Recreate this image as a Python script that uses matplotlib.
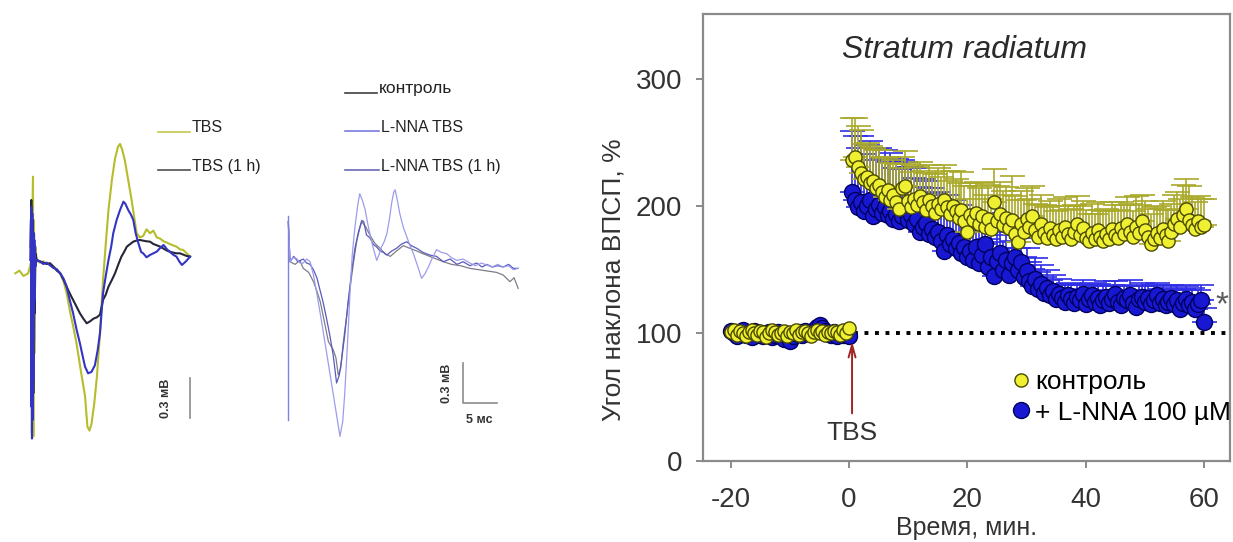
import numpy as np
import matplotlib
matplotlib.use("Agg")
import matplotlib.pyplot as plt
from matplotlib.lines import Line2D

plt.rcParams['font.family'] = ['Liberation Sans', 'DejaVu Sans']
plt.rcParams['axes.unicode_minus'] = False

# ---------------- DATA: right panel (fEPSP slope, %) ----------------
t_base = np.arange(-20, 0.01, 0.5)          # baseline, min
t_post = np.arange(0.5, 60.01, 0.5)         # after TBS, min

ctrl_base = [101, 103, 99, 102, 100, 98, 101, 103, 100, 99, 102, 101, 97, 100, 103, 101,
             99, 100, 102, 98, 101, 100, 103, 99, 101, 102, 100, 98, 101, 103, 100, 102,
             99, 101, 100, 102, 101, 99, 103, 100, 104]
lnna_base = [102, 100, 98, 101, 103, 99, 100, 97, 102, 101, 99, 98, 100, 101, 97, 99,
             101, 98, 96, 99, 94, 98, 100, 101, 99, 102, 100, 101, 103, 105, 107, 104,
             102, 100, 99, 101, 98, 100, 99, 101, 98]

ctrl_post = [236, 239, 231, 226, 221, 223, 218, 220, 214, 217, 211, 207, 213, 205, 209, 203,
             198, 214, 216, 204, 199, 206, 201, 208, 203, 197, 205, 200, 195, 202, 198, 205,
             199, 194, 200, 196, 191, 197, 188, 180, 193, 189, 195, 186, 192, 184, 190, 182,
             203, 188, 194, 185, 191, 183, 189, 178, 172, 186, 180, 190, 184, 192, 181, 176,
             186, 179, 175, 183, 177, 174, 181, 176, 184, 178, 174, 180, 186, 177, 183, 175,
             173, 179, 174, 181, 176, 173, 178, 174, 182, 177, 175, 183, 178, 186, 180, 176,
             184, 179, 188, 181, 176, 170, 174, 179, 175, 182, 177, 173, 180, 186, 190, 184,
             193, 198, 189, 185, 182, 188, 184, 185]
ctrl_err = [33, 30, 32, 34, 28, 27, 29, 26, 30, 27, 28, 31, 26, 29, 27, 30, 32, 25, 27, 29,
            28, 26, 30, 27, 25, 29, 27, 26, 30, 28, 25, 27, 29, 26, 28, 25, 27, 30, 28, 26,
            25, 27, 24, 28, 26, 25, 27, 24, 26, 28, 25, 27, 24, 26, 35, 30, 33, 26, 25, 24,
            22, 24, 21, 25, 23, 22, 24, 21, 23, 22, 25, 21, 23, 22, 24, 21, 22, 23, 21, 22,
            21, 23, 20, 22, 21, 23, 20, 22, 21, 24, 22, 20, 23, 21, 22, 20, 24, 22, 21, 23,
            22, 24, 25, 21, 23, 22, 20, 24, 22, 23, 21, 22, 24, 23, 27, 22, 21, 20, 22, 21]

lnna_post = [211, 205, 199, 203, 196, 200, 205, 192, 198, 201, 195, 199, 193, 196, 190, 194,
             188, 192, 196, 189, 193, 186, 190, 180, 184, 187, 178, 182, 176, 180, 173, 165,
             177, 170, 174, 167, 171, 163, 168, 160, 165, 158, 168, 155, 162, 170, 152, 160,
             145, 157, 163, 150, 158, 146, 155, 160, 150, 156, 144, 149, 141, 137, 143, 135,
             139, 132, 136, 130, 133, 127, 131, 128, 125, 130, 127, 124, 129, 126, 131, 123,
             127, 130, 125, 128, 122, 126, 129, 124, 127, 131, 125, 122, 128, 126, 130, 124,
             121, 127, 129, 125, 128, 123, 126, 130, 124, 127, 122, 125, 128, 123, 126, 119,
             124, 127, 122, 125, 119, 123, 126, 109]
lnna_err = [48, 50, 47, 52, 45, 48, 46, 44, 47, 45, 43, 45, 42, 46, 40, 43, 41, 44, 39, 42,
            38, 36, 40, 35, 37, 33, 36, 32, 34, 31, 33, 30, 32, 29, 31, 28, 30, 27, 29, 26,
            25, 27, 24, 26, 23, 25, 22, 24, 21, 23, 20, 22, 19, 21, 18, 20, 17, 19, 16, 18,
            15, 14, 16, 13, 15, 12, 14, 12, 13, 11, 12, 11, 13, 10, 12, 11, 10, 12, 11, 10,
            11, 10, 12, 11, 10, 11, 12, 10, 11, 10, 12, 11, 10, 11, 12, 10, 11, 10, 11, 12,
            10, 11, 12, 10, 11, 10, 12, 11, 10, 11, 12, 10, 11, 10, 12, 11, 10, 11, 12, 11]

x_ticks = [-20, 0, 20, 40, 60]
y_ticks = [0, 100, 200, 300]
legend_labels = ['контроль', '+ L-NNA 100 \u00b5M']

# ---------------- DATA: left panel (fEPSP traces; ms, mV) ----------------
# group 1
g1_yel_t = [-2.6, -2.0, -1.4, -0.7, -0.2, 0.0, 0.05, 0.1, 0.2, 0.35, 0.54, 1.0, 1.5, 2.0, 2.5,
            3.0, 3.5, 4.0, 4.5, 4.95, 5.5, 6.0, 6.4, 7.0, 7.65, 8.0, 8.3, 8.6, 9.0, 9.4, 9.85,
            10.3, 10.7, 11.1, 11.6, 12.06, 12.5, 12.8, 13.1, 13.5, 14.0, 14.5, 15.0, 15.25,
            15.7, 16.2, 16.7, 17.2, 17.7, 18.2, 18.7, 19.2, 19.7, 20.1, 20.6, 21.1, 21.6, 22.1,
            22.6, 23.1]
g1_yel_v = [0.0, 0.02, -0.02, 0.0, 0.1, 0.725, -1.225, 0.4, -0.6, 0.2, 0.1, 0.08, 0.09, 0.07,
            0.075, 0.05, 0.03, 0.0, -0.06, -0.15, -0.3, -0.42, -0.525, -0.72, -0.92, -1.15,
            -1.18, -1.13, -0.98, -0.775, -0.45, -0.05, 0.22, 0.475, 0.7, 0.86, 0.95, 0.97,
            0.93, 0.85, 0.7, 0.55, 0.38, 0.3, 0.27, 0.28, 0.33, 0.3, 0.32, 0.27, 0.26, 0.24,
            0.23, 0.22, 0.21, 0.2, 0.18, 0.175, 0.15, 0.125]
g1_blu_t = [-0.4, -0.3, -0.25, -0.2, -0.15, -0.1, -0.05, 0.0, 0.05, 0.1, 0.15, 0.2, 0.25, 0.3,
            0.35, 0.54, 1.0, 1.5, 2.0, 2.5, 3.0, 3.5, 4.0, 4.5, 4.95, 5.4, 5.9, 6.4, 6.9, 7.3,
            7.65, 8.1, 8.6, 9.1, 9.5, 9.85, 10.3, 10.7, 11.1, 11.5, 11.8, 12.3, 12.8, 13.3,
            13.6, 14.0, 14.4, 14.75, 15.1, 15.5, 15.9, 16.2, 16.7, 17.2, 17.7, 18.2, 18.7,
            19.2, 19.7, 20.1, 20.6, 21.1, 21.5, 21.9, 22.5, 23.1]
g1_blu_v = [0.1, 0.4, -1.0, 0.5, -1.24, 0.45, -1.1, 0.3, -0.8, 0.3, -0.5, 0.25, -0.2, 0.2, 0.05,
            0.1, 0.09, 0.07, 0.08, 0.06, 0.04, 0.03, 0.0, -0.04, -0.1, -0.2, -0.3, -0.42,
            -0.525, -0.62, -0.7, -0.75, -0.74, -0.69, -0.58, -0.45, -0.15, -0.02, 0.1, 0.2,
            0.3, 0.4, 0.475, 0.5375, 0.52, 0.475, 0.44, 0.4, 0.3, 0.225, 0.16, 0.15, 0.12,
            0.1375, 0.15, 0.1625, 0.19, 0.2125, 0.18, 0.1625, 0.14, 0.125, 0.09, 0.0625, 0.09,
            0.125]
g1_blk_t = [-0.35, -0.25, -0.15, -0.05, 0.05, 0.15, 0.25, 0.35, 0.54, 1.0, 1.5, 2.0, 2.5, 3.0,
            3.5, 4.0, 4.5, 4.95, 5.4, 5.9, 6.4, 6.9, 7.4, 7.9, 8.4, 8.9, 9.4, 9.85, 10.3, 10.7,
            11.1, 11.6, 12.06, 12.5, 13.0, 13.4, 13.8, 14.3, 14.75, 15.2, 15.7, 16.2, 16.7,
            17.2, 17.7, 18.2, 18.7, 19.2, 19.7, 20.1, 20.6, 21.1, 21.6, 22.1, 22.6, 23.1]
g1_blk_v = [0.2, 0.55, -1.2, 0.4, -0.9, 0.3, -0.3, 0.15, 0.1, 0.09, 0.08, 0.07, 0.075, 0.05,
            0.02, 0.0, -0.05, -0.1, -0.15, -0.2, -0.25, -0.3, -0.34, -0.375, -0.36, -0.34,
            -0.33, -0.31, -0.2, -0.16, -0.1, -0.05, 0.0, 0.06, 0.125, 0.16, 0.2, 0.22, 0.2375,
            0.245, 0.25, 0.245, 0.24, 0.2375, 0.22, 0.21, 0.2, 0.185, 0.17, 0.1625, 0.155,
            0.15, 0.15, 0.14, 0.13, 0.125]

# group 2
g2_art_t = [0.0, 0.0]
g2_art_v = [0.34, -1.19]
g2_lnna_t = [0.0, 0.25, 0.7, 1.2, 1.7, 2.2, 2.7, 3.2, 3.7, 4.2, 4.8, 5.4, 6.0, 6.6, 7.1, 7.6,
             8.0, 8.3, 8.7, 9.07, 9.4, 9.8, 10.2, 10.5, 10.9, 11.3, 11.7, 12.0, 12.5, 13.0,
             13.4, 13.7, 14.1, 14.5, 14.9, 15.2, 15.5, 15.7, 16.0, 16.4, 16.9, 17.4, 17.9,
             18.4, 19.0, 19.6, 20.1, 20.6, 21.2, 21.8, 22.5, 23.3, 24.0, 24.8, 25.7, 26.7,
             27.5, 28.4, 29.2, 30.0, 30.8, 31.6, 32.4, 33.1, 33.8]
g2_lnna_v = [0.3, 0.0, 0.03, 0.025, -0.01, -0.01, 0.02, 0.0, -0.1, -0.24, -0.42, -0.61, -0.8,
             -0.99, -1.15, -1.31, -1.2, -0.99, -0.62, -0.24, 0.05, 0.26, 0.42, 0.51, 0.46,
             0.39, 0.28, 0.21, 0.1, 0.01, 0.06, 0.11, 0.15, 0.21, 0.33, 0.44, 0.52, 0.54, 0.47,
             0.36, 0.26, 0.19, 0.12, 0.06, -0.03, -0.125, -0.09, -0.04, 0.03, 0.09, 0.07, 0.06,
             0.03, 0.01, 0.02, -0.01, -0.03, -0.01, -0.025, -0.04, -0.02, -0.04, -0.03, -0.06,
             -0.05]
g2_tbs1h_t = [0.0, 0.25, 0.8, 1.4, 2.2, 2.7, 3.2, 3.7, 4.2, 4.6, 5.1, 5.6, 6.1, 6.6, 7.1, 7.5,
              7.8, 8.3, 8.8, 9.3, 9.8, 10.3, 10.8, 11.1, 11.5, 12.0, 12.5, 13.0, 13.5, 14.0,
              14.5, 15.2, 15.9, 16.6, 17.4, 18.1, 18.9, 19.8, 20.8, 21.8, 22.8, 23.8, 24.8,
              25.7, 26.7, 27.7, 28.5, 29.2, 30.0, 30.8, 31.6, 32.4, 33.1, 33.8]
g2_tbs1h_v = [0.3, 0.0, 0.04, 0.0, 0.02, -0.01, -0.02, -0.06, -0.12, -0.2, -0.3, -0.42, -0.55,
              -0.7, -0.91, -0.85, -0.75, -0.55, -0.3, -0.08, 0.1, 0.22, 0.31, 0.3, 0.2, 0.18,
              0.13, 0.11, 0.08, 0.07, 0.05, 0.08, 0.1, 0.13, 0.15, 0.12, 0.1, 0.07, 0.05, 0.04,
              0.0, 0.02, -0.02, 0.0, -0.03, -0.01, -0.04, -0.02, -0.04, -0.03, -0.04, -0.02,
              -0.05, -0.05]
g2_ctrl_t = [0.0, 0.25, 1.0, 1.7, 2.2, 3.0, 3.7, 4.2, 4.7, 5.3, 5.9, 6.6, 7.0, 7.35, 7.7, 8.1,
             8.6, 9.07, 9.6, 10.05, 10.5, 10.8, 11.4, 12.0, 12.7, 13.5, 14.2, 15.0, 15.9, 16.9,
             17.9, 18.9, 19.8, 20.8, 21.8, 22.8, 24.0, 25.3, 26.7, 28.0, 29.3, 30.6, 31.6, 32.6,
             33.2, 33.8]
g2_ctrl_v = [0.3, 0.0, -0.02, 0.01, -0.05, -0.08, -0.15, -0.22, -0.3, -0.45, -0.6, -0.66,
             -0.72, -0.85, -0.8, -0.6, -0.4, -0.2, 0.0, 0.15, 0.25, 0.3, 0.26, 0.2, 0.14, 0.1,
             0.06, 0.04, 0.08, 0.12, 0.1, 0.08, 0.06, 0.04, 0.02, 0.0, -0.02, -0.03, -0.05,
             -0.06, -0.07, -0.08, -0.1, -0.15, -0.12, -0.2]

# ---------------- FIGURE ----------------
W, H = 1233, 542
fig = plt.figure(figsize=(W / 100, H / 100), dpi=100)

# ---- left: traces (data in ms / mV), 6.8 px per ms, 133.3 px per mV ----
PX_MS, PX_MV = 6.8, 133.3
ax_tr = fig.add_axes([0, 0, 560 / W, 1])
ax_tr.set_xlim(0, 560 / PX_MS)
ax_tr.set_ylim(0, H / PX_MV)
ax_tr.axis('off')

g1_t0, g1_v0 = 33 / PX_MS, (H - 273.3) / PX_MV
g2_t0, g2_v0 = 288.3 / PX_MS, (H - 261.7) / PX_MV

def tr(ts, vs, t0, v0, **kw):
    ax_tr.plot(np.asarray(ts) + t0, np.asarray(vs) + v0, **kw)

tr(g1_yel_t, g1_yel_v, g1_t0, g1_v0, color='#b5bd2c', lw=1.5, zorder=3)
tr(g1_blk_t, g1_blk_v, g1_t0, g1_v0, color='#26263a', lw=1.5, zorder=4)
tr(g1_blu_t, g1_blu_v, g1_t0, g1_v0, color='#3434c4', lw=1.5, zorder=5)

tr(g2_ctrl_t, g2_ctrl_v, g2_t0, g2_v0, color='#7d7d8a', lw=0.9, zorder=3)
tr(g2_tbs1h_t, g2_tbs1h_v, g2_t0, g2_v0, color='#5a5abc', lw=0.9, zorder=4)
tr(g2_lnna_t, g2_lnna_v, g2_t0, g2_v0, color='#9c9cec', lw=0.9, zorder=5)
tr(g2_art_t, g2_art_v, g2_t0, g2_v0, color='#8080e0', lw=1.0, zorder=6)

# scale bars (0.3 mV, 5 ms)
sb_col = '#8c8c8c'
x1 = 190 / PX_MS
y1 = (H - 418) / PX_MV
ax_tr.plot([x1, x1], [y1, y1 + 0.3], color=sb_col, lw=1.2)
ax_tr.text(166 / PX_MS, y1 + 0.15, '0.3 мВ', rotation=90, ha='center', va='center',
           fontsize=9, fontweight='bold', color='#333333')
x2 = 462.7 / PX_MS
y2 = (H - 403) / PX_MV
ax_tr.plot([x2, x2, x2 + 5], [y2 + 0.3, y2, y2], color=sb_col, lw=1.2)
ax_tr.text(447 / PX_MS, y2 + 0.15, '0.3 мВ', rotation=90, ha='center', va='center',
           fontsize=9, fontweight='bold', color='#333333')
ax_tr.text(x2 + 2.5, (H - 420) / PX_MV, '5 мс', ha='center', va='center',
           fontsize=9, fontweight='bold', color='#333333')

# trace legends (figure pixel layout)
def leg(x0, x1_, y, col, label, fs):
    fig.add_artist(Line2D([x0 / W, x1_ / W], [1 - y / H, 1 - y / H], color=col, lw=1.2))
    fig.text((x1_ + 2) / W, 1 - (y - 4) / H, label, fontsize=fs, color='#222222',
             ha='left', va='center')

leg(158, 190, 132, '#c4c84a', 'TBS', 11.5)
leg(158, 190, 170, '#505050', 'TBS (1 h)', 11.5)
leg(345, 377, 93, '#404040', 'контроль', 12.5)
leg(345, 379, 131, '#7a7ae0', 'L-NNA TBS', 11.5)
leg(345, 379, 170, '#6a6ab8', 'L-NNA TBS (1 h)', 11.5)

# ---- right: LTP time course ----
ax = fig.add_axes([703 / W, 1 - 460.7 / H, (1230 - 703) / W, (460.7 - 14) / H])
ax.set_xlim(-24.7, 64.4)
ax.set_ylim(0, 351)

yel_face, yel_edge, yel_err = '#f0f032', '#4a4a00', '#a9a92a'
blu_face, blu_edge, blu_err = '#1818d2', '#00005e', '#2f2fe6'
ms_y, ms_b = 9.5, 11.5

z = np.zeros(len(t_post))
ax.errorbar(t_post, lnna_post, yerr=[z, lnna_err], fmt='none', ecolor=blu_err,
            elinewidth=1.2, capsize=9, capthick=1.2, zorder=2)
ax.plot(t_base, lnna_base, 'o', ms=ms_b, mfc=blu_face, mec=blu_edge, mew=1.0, zorder=3)
ax.plot(t_post, lnna_post, 'o', ms=ms_b, mfc=blu_face, mec=blu_edge, mew=1.0, zorder=3)
ax.errorbar(t_post, ctrl_post, yerr=[z, ctrl_err], fmt='none', ecolor=yel_err,
            elinewidth=1.2, capsize=9, capthick=1.2, zorder=4)
ax.plot(t_base, ctrl_base, 'o', ms=ms_y, mfc=yel_face, mec=yel_edge, mew=1.0, zorder=5)
ax.plot(t_post, ctrl_post, 'o', ms=ms_y, mfc=yel_face, mec=yel_edge, mew=1.0, zorder=5)

ax.plot([0.8, 64.4], [100, 100], color='black', lw=2.8, linestyle=(0, (1, 1.7)),
        dash_capstyle='butt', zorder=1)

ax.annotate('', xy=(0.5, 96), xytext=(0.5, 35),
            arrowprops=dict(arrowstyle='->,head_length=0.9,head_width=0.25',
                            color='#a02424', lw=1.4))
ax.text(0.5, 22, 'TBS', ha='center', va='center', fontsize=19, color='#333333')
ax.text(63.0, 122, '*', ha='center', va='center', fontsize=24, color='#5a5a5a')
ax.set_title('Stratum radiatum', style='italic', fontsize=23, color='#2a2a2a',
             x=(965 - 703) / (1230 - 703), y=1.0, pad=-32)

handles = [Line2D([], [], ls='none', marker='o', ms=ms_y, mfc=yel_face, mec=yel_edge),
           Line2D([], [], ls='none', marker='o', ms=ms_b, mfc=blu_face, mec=blu_edge)]
ax.legend(handles, legend_labels, loc='upper left',
          bbox_to_anchor=((1014 - 703) / (1230 - 703), (460.7 - 370) / (460.7 - 14)),
          frameon=False, fontsize=19, handlelength=0.5, handletextpad=0.3,
          labelspacing=0.25, borderpad=0, borderaxespad=0)

ax.set_xticks(x_ticks)
ax.set_yticks(y_ticks)
spine_col = '#8a8a8a'
for s in ax.spines.values():
    s.set_color(spine_col)
    s.set_linewidth(1.6)
ax.tick_params(axis='both', direction='out', length=5, width=1.4, color=spine_col,
               labelsize=20, labelcolor='#333333')
ax.tick_params(axis='x', pad=14)
ax.tick_params(axis='y', pad=10)
ax.set_xlabel('Время, мин.', fontsize=18, color='#333333', labelpad=2)
ax.set_ylabel('Угол наклона ВПСП, %', fontsize=19, color='#333333', labelpad=6)
ax.yaxis.set_label_coords(-0.148, (460.7 - 280) / (460.7 - 14))

fig.savefig('out.png', dpi=100)
